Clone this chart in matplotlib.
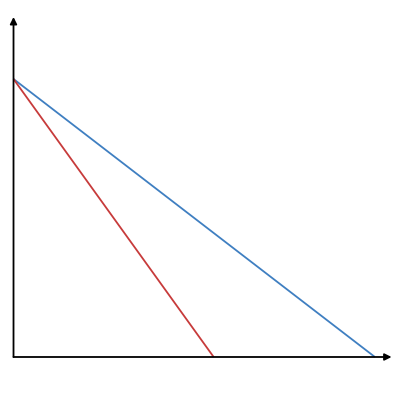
import matplotlib
matplotlib.use("Agg")
import matplotlib.pyplot as plt
import numpy as np

# two straight lines sharing the same intercept on the y axis
y_intercept = 10.0
x_intercepts = [13.0, 7.2]
line_colors = ["#3f7fc1", "#c73b3b"]

x_axis_end = 13.6
y_axis_end = 12.23

fig = plt.figure(figsize=(4, 4), dpi=100)
ax = fig.add_axes([0, 0, 1, 1])
ax.set_xlim(-0.486, 13.903)
ax.set_ylim(-1.547, 12.842)
ax.axis("off")

for xi, c in zip(x_intercepts, line_colors):
    ax.plot([0, xi], [y_intercept, 0], color=c, lw=1.3, solid_capstyle="butt")

arrow = dict(arrowstyle="-|>", color="black", lw=1.3, mutation_scale=10,
             shrinkA=0, shrinkB=0)
ax.annotate("", xy=(x_axis_end, 0), xytext=(0, 0), arrowprops=arrow)
ax.annotate("", xy=(0, y_axis_end), xytext=(0, 0), arrowprops=arrow)

plt.savefig("out.png", dpi=100)
